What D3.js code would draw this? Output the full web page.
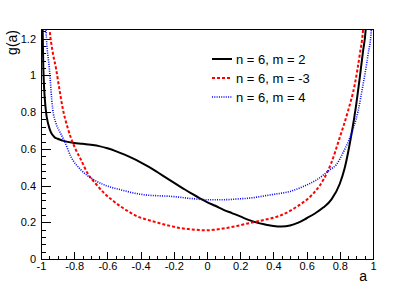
<!DOCTYPE html>
<html lang="en">
<head>
<meta charset="UTF-8">
<title>g(a)</title>
<script src="https://d3js.org/d3.v7.min.js"></script>
<style>
  body { margin: 0; background: #fff; }
  svg text { font-family: "Liberation Sans", Arial, sans-serif; fill: #000; }
  .axis text { font-size: 11px; }
  .axis line { stroke: #000; stroke-width: 1px; shape-rendering: crispEdges; }
</style>
</head>
<body>
<svg id="chart" width="415" height="289"></svg>
<script>
// ---- data ----
var seriesNames = ["n = 6, m = 2", "n = 6, m = -3", "n = 6, m = 4"];

var blackA = [-0.995, -0.99, -0.986, -0.972, -0.955, -0.94, -0.92, -0.90, -0.87, -0.80, -0.75, -0.70, -0.65, -0.60, -0.55, -0.50, -0.45, -0.40, -0.35, -0.30, -0.25, -0.20, -0.15, -0.10, -0.05, 0.0, 0.05, 0.10, 0.15, 0.20, 0.25, 0.30, 0.35, 0.40, 0.45, 0.50, 0.55, 0.60, 0.65, 0.70, 0.75, 0.80, 0.83, 0.87, 0.896, 0.92, 0.94, 0.956, 0.965];
var blackG = [1.40, 1.25, 1.04, 0.82, 0.73, 0.69, 0.665, 0.655, 0.645, 0.632, 0.628, 0.622, 0.615, 0.603, 0.588, 0.57, 0.55, 0.527, 0.502, 0.474, 0.445, 0.416, 0.388, 0.36, 0.335, 0.31, 0.29, 0.268, 0.25, 0.232, 0.213, 0.198, 0.188, 0.18, 0.177, 0.182, 0.198, 0.222, 0.248, 0.28, 0.325, 0.41, 0.497, 0.678, 0.823, 0.986, 1.132, 1.25, 1.40];

var redA = [-0.96, -0.948, -0.93, -0.91, -0.89, -0.869, -0.839, -0.82, -0.79, -0.759, -0.72, -0.67, -0.62, -0.57, -0.52, -0.47, -0.42, -0.36, -0.29, -0.22, -0.165, -0.10, -0.05, 0.0, 0.05, 0.117, 0.18, 0.257, 0.33, 0.40, 0.44, 0.50, 0.558, 0.61, 0.66, 0.70, 0.749, 0.799, 0.849, 0.89, 0.92, 0.94, 0.95];
var redG = [1.40, 1.25, 1.13, 1.04, 0.93, 0.82, 0.714, 0.66, 0.595, 0.54, 0.468, 0.41, 0.359, 0.32, 0.286, 0.257, 0.232, 0.214, 0.196, 0.18, 0.169, 0.162, 0.158, 0.156, 0.16, 0.169, 0.18, 0.196, 0.21, 0.225, 0.236, 0.262, 0.295, 0.33, 0.377, 0.43, 0.524, 0.66, 0.805, 0.95, 1.113, 1.25, 1.40];

var blueA = [-0.975, -0.97, -0.95, -0.93, -0.91, -0.885, -0.86, -0.82, -0.76, -0.68, -0.62, -0.52, -0.38, -0.2, -0.1, 0.0, 0.1, 0.2, 0.26, 0.32, 0.4, 0.5, 0.58, 0.66, 0.74, 0.78, 0.82, 0.86, 0.91, 0.94, 0.97, 0.99, 0.995];
var blueG = [1.40, 1.25, 1.04, 0.82, 0.74, 0.69, 0.645, 0.558, 0.486, 0.431, 0.404, 0.377, 0.35, 0.34, 0.33, 0.323, 0.323, 0.328, 0.332, 0.34, 0.352, 0.368, 0.395, 0.431, 0.486, 0.515, 0.58, 0.66, 0.805, 0.95, 1.113, 1.25, 1.40];

var xMajor = [-1, -0.8, -0.6, -0.4, -0.2, 0, 0.2, 0.4, 0.6, 0.8, 1];
var xLabels = ["-1", "-0.8", "-0.6", "-0.4", "-0.2", "0", "0.2", "0.4", "0.6", "0.8", "1"];
var yMajor = [0, 0.2, 0.4, 0.6, 0.8, 1, 1.2];
var yLabels = ["0", "0.2", "0.4", "0.6", "0.8", "1", "1.2"];

// ---- layout (frame edges in px) ----
var fLeft = 41, fRight = 373, fTop = 29, fBottom = 259;
var svg = d3.select("#chart");

var x = d3.scaleLinear().domain([-1, 1]).range([fLeft, fRight]);
var y = d3.scaleLinear().domain([0, 1.253]).range([fBottom, fTop]);

var xMinor = d3.range(-1, 1.0001, 0.05).filter(function(v) {
  return Math.abs(Math.round(v * 5) - v * 5) > 1e-6;
});
var yMinor = d3.range(0, 1.25, 0.04).filter(function(v) {
  return Math.abs(Math.round(v * 5) - v * 5) > 1e-6;
});

// minor ticks
svg.append("g").attr("class", "axis")
  .attr("transform", "translate(0," + fBottom + ")")
  .call(d3.axisBottom(x).tickValues(xMinor).tickSize(-3.5).tickSizeOuter(0).tickFormat(""))
  .select(".domain").remove();
svg.append("g").attr("class", "axis")
  .attr("transform", "translate(" + fLeft + ",0)")
  .call(d3.axisLeft(y).tickValues(yMinor).tickSize(-5).tickSizeOuter(0).tickFormat(""))
  .select(".domain").remove();

// major ticks + labels
svg.append("g").attr("class", "axis")
  .attr("transform", "translate(0," + fBottom + ")")
  .call(d3.axisBottom(x).tickValues(xMajor).tickSize(-7).tickSizeOuter(0).tickPadding(3)
    .tickFormat(function(d, i) { return xLabels[i]; }))
  .select(".domain").remove();
svg.append("g").attr("class", "axis")
  .attr("transform", "translate(" + fLeft + ",0)")
  .call(d3.axisLeft(y).tickValues(yMajor).tickSize(-10).tickSizeOuter(0).tickPadding(5)
    .tickFormat(function(d, i) { return yLabels[i]; }))
  .select(".domain").remove();

// curves, clipped to the frame
svg.append("clipPath").attr("id", "frameClip")
  .append("rect")
  .attr("x", fLeft).attr("y", fTop)
  .attr("width", fRight - fLeft).attr("height", fBottom - fTop);

var line = d3.line()
  .x(function(d) { return x(d[0]); })
  .y(function(d) { return y(d[1]); })
  .curve(d3.curveMonotoneX);

var series = [
  { a: blackA, g: blackG, color: "#000000", dash: null, width: 2 },
  { a: redA, g: redG, color: "#ff0000", dash: "3,2", width: 2 },
  { a: blueA, g: blueG, color: "#0000ff", dash: "1,1.3", width: 1.6 }
];

var plot = svg.append("g").attr("clip-path", "url(#frameClip)");
series.forEach(function(s) {
  plot.append("path")
    .datum(d3.zip(s.a, s.g))
    .attr("d", line)
    .style("fill", "none")
    .style("stroke", s.color)
    .style("stroke-width", s.width)
    .style("stroke-dasharray", s.dash);
});

// frame
svg.append("rect")
  .attr("x", fLeft + 0.5).attr("y", fTop + 0.5)
  .attr("width", fRight - fLeft).attr("height", fBottom - fTop)
  .style("fill", "none").style("stroke", "#000").style("stroke-width", 1)
  .style("shape-rendering", "crispEdges");

// axis titles
svg.append("text")
  .attr("transform", "translate(17," + (fTop + 1) + ") rotate(-90)")
  .attr("text-anchor", "end")
  .style("font-size", "14px")
  .text("g(a)");
svg.append("text")
  .attr("x", 367).attr("y", 281)
  .attr("text-anchor", "end")
  .style("font-size", "14px")
  .text("a");

// legend
var legend = svg.append("g");
series.forEach(function(s, i) {
  var ly = 59 + i * 19;
  legend.append("line")
    .attr("x1", 212).attr("x2", 232).attr("y1", ly).attr("y2", ly)
    .style("stroke", s.color)
    .style("stroke-width", s.width)
    .style("stroke-dasharray", s.dash);
  legend.append("text")
    .attr("x", 236).attr("y", ly)
    .attr("dy", "0.35em")
    .style("font-size", "13px")
    .text(seriesNames[i]);
});
</script>
</body>
</html>
